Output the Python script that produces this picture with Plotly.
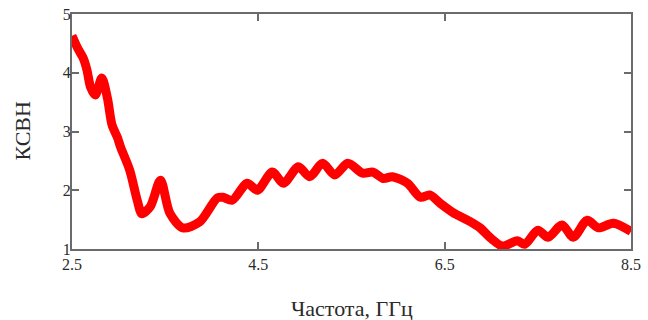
import plotly.graph_objects as go

# Frequency, GHz
freq = [2.50, 2.56, 2.62, 2.66, 2.70, 2.75, 2.82, 2.88, 2.93, 2.99,
        3.02, 3.12, 3.20, 3.25, 3.34, 3.45, 3.55, 3.69, 3.87, 4.06,
        4.12, 4.22, 4.38, 4.49, 4.65, 4.77, 4.93, 5.05, 5.19, 5.32,
        5.46, 5.62, 5.73, 5.84, 5.94, 6.10, 6.24, 6.34, 6.45, 6.59,
        6.77, 6.88, 6.99, 7.12, 7.28, 7.36, 7.50, 7.61, 7.76, 7.88,
        8.03, 8.15, 8.31, 8.50]
# VSWR (КСВН)
vswr = [4.63, 4.42, 4.25, 4.05, 3.75, 3.62, 3.91, 3.57, 3.11, 2.89,
        2.74, 2.34, 1.83, 1.60, 1.72, 2.17, 1.61, 1.36, 1.46, 1.87,
        1.88, 1.83, 2.12, 2.00, 2.31, 2.12, 2.40, 2.23, 2.46, 2.26,
        2.46, 2.29, 2.31, 2.20, 2.23, 2.12, 1.88, 1.92, 1.78, 1.62,
        1.47, 1.36, 1.19, 1.05, 1.14, 1.08, 1.32, 1.20, 1.41, 1.20,
        1.49, 1.36, 1.44, 1.30]

x_ticks = [2.5, 4.5, 6.5, 8.5]
x_ticktext = ["2.5", "4.5", "6.5", "8.5"]
y_ticks = [1, 2, 3, 4, 5]
x_title = "Частота, ГГц"
y_title = "КСВН"

FONT = "Liberation Serif"
AX_COLOR = "#6b6b6b"
TXT = "#2a2a2a"

fig = go.Figure()
fig.add_trace(go.Scatter(
    x=freq, y=vswr, mode="lines",
    line=dict(color="#ff0000", width=9, shape="spline", smoothing=0.8),
    hoverinfo="skip", showlegend=False,
))

fig.update_layout(
    width=648, height=320,
    margin=dict(l=72, r=17, t=14, b=71),
    paper_bgcolor="white", plot_bgcolor="white",
    font=dict(family=FONT, size=16, color=TXT),
    xaxis=dict(
        range=[2.5, 8.5], tickvals=x_ticks, ticktext=x_ticktext,
        showgrid=False, zeroline=False,
        showline=True, linecolor=AX_COLOR, linewidth=2, mirror="allticks",
        ticks="inside", ticklen=7, tickwidth=2, tickcolor=AX_COLOR,
        tickfont=dict(family=FONT, size=16, color=TXT),
        automargin=False,
    ),
    yaxis=dict(
        range=[1, 5], tickvals=y_ticks,
        showgrid=False, zeroline=False,
        showline=True, linecolor=AX_COLOR, linewidth=2, mirror="allticks",
        ticks="inside", ticklen=7, tickwidth=2, tickcolor=AX_COLOR,
        tickfont=dict(family=FONT, size=16, color=TXT),
        ticklabelstandoff=-4,
        automargin=False,
    ),
    annotations=[
        dict(text=x_title, xref="paper", yref="paper", x=0.5, y=0,
             xanchor="center", yanchor="middle", yshift=-59, showarrow=False,
             font=dict(family=FONT, size=22, color=TXT)),
        dict(text=y_title, xref="paper", yref="paper", x=0, y=0.5,
             xanchor="center", yanchor="middle", xshift=-50, textangle=-90,
             showarrow=False, font=dict(family=FONT, size=22, color=TXT)),
    ],
)

fig.write_html(
    "out.html",
    config={"displayModeBar": False, "staticPlot": True},
    post_script="document.body.style.margin='0';document.body.style.overflow='hidden';",
)
